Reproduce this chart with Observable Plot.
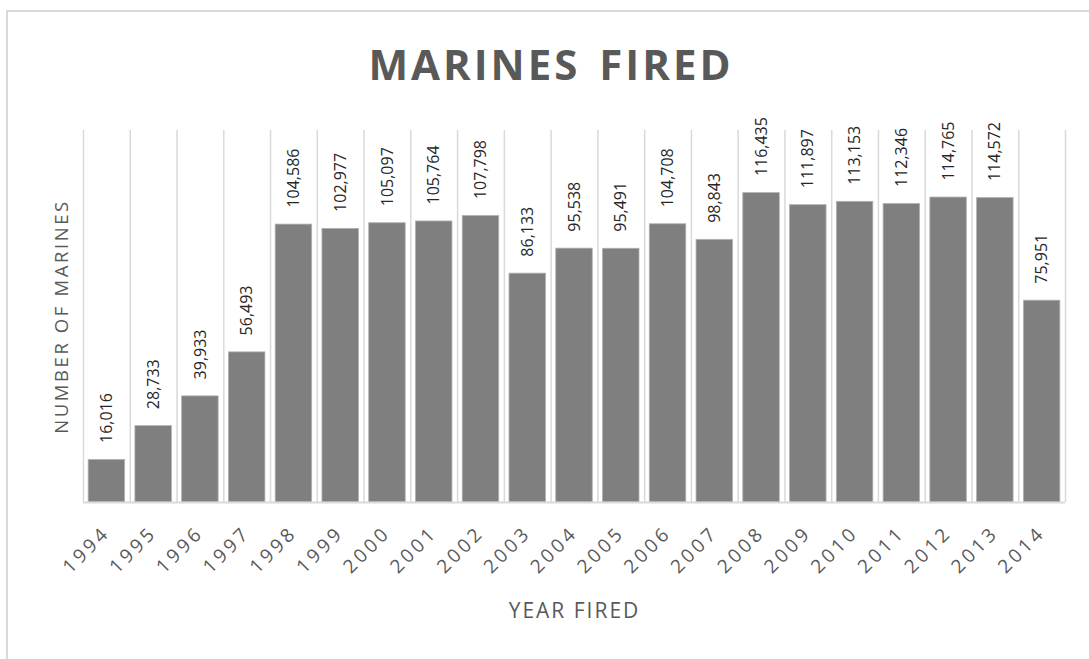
<!DOCTYPE html>
<html>
<head>
<meta charset="utf-8">
<script src="https://cdn.jsdelivr.net/npm/d3@7"></script>
<script src="https://cdn.jsdelivr.net/npm/@observablehq/plot@0.6"></script>
<style>
  html, body { margin: 0; padding: 0; background: #fff; overflow: hidden; }
  #wrap { position: relative; width: 1089px; height: 659px; overflow: hidden; font-family: "Open Sans", sans-serif; }
  #border { position: absolute; left: 6px; top: 10px; width: 1200px; height: 800px; border: 2px solid #d9d9d9; box-sizing: border-box; }
  #title { position: absolute; left: 0; width: 1102px; top: 43px; text-align: center; font-size: 42px; line-height: 1; font-weight: 700; color: #595959; letter-spacing: 3px; word-spacing: 5px; }
  #chart { position: absolute; left: 0; top: 0; }
  #chart svg g[aria-label="x-axis tick label"] text { letter-spacing: 3.5px; }
</style>
</head>
<body>
<div id="wrap">
  <div id="border"></div>
  <div id="title">MARINES FIRED</div>
  <div id="chart"></div>
</div>
<script>
const years = ["1994","1995","1996","1997","1998","1999","2000","2001","2002","2003","2004","2005","2006","2007","2008","2009","2010","2011","2012","2013","2014"];
const fired = [16016, 28733, 39933, 56493, 104586, 102977, 105097, 105764, 107798, 86133, 95538, 95491, 104708, 98843, 116435, 111897, 113153, 112346, 114765, 114572, 75951];
const yLabel = "NUMBER OF MARINES";
const xLabel = "YEAR FIRED";

const data = years.map((y, i) => ({year: y, value: fired[i]}));
const W = 1089, H = 659;
const mL = 83, mR = 24, mT = 130, mB = 157;
const step = (W - mL - mR) / years.length;
const fmt = d3.format(",");

const chart = Plot.plot({
  width: W,
  height: H,
  marginLeft: mL,
  marginRight: mR,
  marginTop: mT,
  marginBottom: mB,
  style: {fontFamily: "Open Sans, sans-serif", background: "transparent", overflow: "visible"},
  x: {type: "band", domain: years, paddingInner: 0.22, paddingOuter: 0.11, round: false, label: null},
  y: {domain: [0, 140000], axis: null},
  marks: [
    Plot.ruleX(years, {x: d => d, y1: 0, y2: 140000, dx: -step / 2, stroke: "#d9d9d9", strokeWidth: 1.5}),
    Plot.ruleX([years[years.length - 1]], {x: d => d, y1: 0, y2: 140000, dx: step / 2, stroke: "#d9d9d9", strokeWidth: 1.5}),
    Plot.barY(data, {x: "year", y: "value", fill: "#7f7f7f", stroke: "#b0b0b0", strokeWidth: 0.8}),
    Plot.ruleY([0], {stroke: "#d9d9d9", strokeWidth: 2}),
    Plot.text(data, {x: "year", y: "value", text: d => fmt(d.value), rotate: -90, textAnchor: "start", dy: -17, fontSize: 16, fill: "#262626"}),
    Plot.axisX({tickRotate: -45, tickSize: 0, tickPadding: 27, fontSize: 19, fill: "#595959", label: null}),
    Plot.text([xLabel], {frameAnchor: "bottom", dy: 115, fontSize: 21, fill: "#595959"}),
    Plot.text([yLabel], {frameAnchor: "left", textAnchor: "middle", rotate: -90, dx: -21, fontSize: 18.5, fill: "#595959"})
  ]
});
d3.select(chart).selectAll("text").each(function() {
  const t = this.textContent;
  if (t === yLabel) this.setAttribute("letter-spacing", "2.6px");
  if (t === xLabel) this.setAttribute("letter-spacing", "2px");
});
document.getElementById("chart").appendChild(chart);
</script>
</body>
</html>
